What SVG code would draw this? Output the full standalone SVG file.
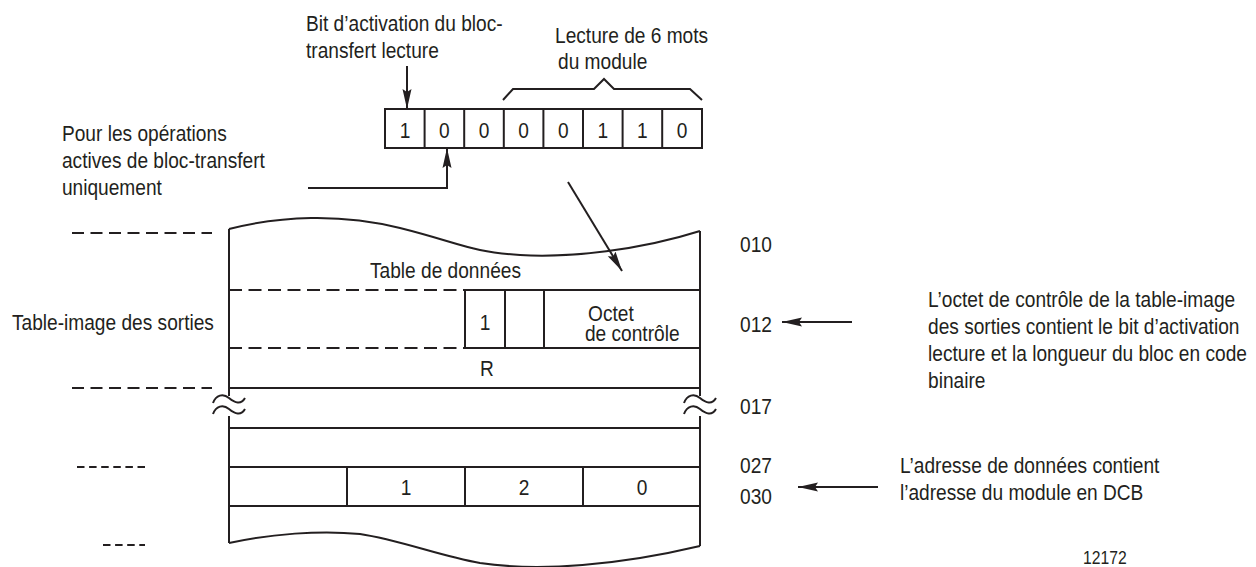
<svg xmlns="http://www.w3.org/2000/svg" width="1256" height="567" viewBox="0 0 1256 567">
<style>
text{font-family:"Liberation Sans",Arial,sans-serif;font-size:22.5px;fill:#231f20}
.c{text-anchor:middle}
.ln{stroke:#231f20;stroke-width:2;fill:none}
.dl{stroke:#231f20;stroke-width:2.2;fill:none;stroke-dasharray:12 6.5}
.ds{stroke:#231f20;stroke-width:2.2;fill:none;stroke-dasharray:7.5 4.6}
.di{stroke:#231f20;stroke-width:2;fill:none;stroke-dasharray:13 6.5}
.ar{stroke:#231f20;stroke-width:2;fill:none;marker-end:url(#ah)}
</style>
<defs>
<marker id="ah" markerUnits="userSpaceOnUse" markerWidth="20" markerHeight="10" viewBox="0 0 20 10" refX="20" refY="5" orient="auto">
<path d="M0,0.5 L20,5 L0,9.5 L3,5 z" fill="#231f20"/>
</marker>
</defs>

<g id="label-bit"><g transform="scale(0.85 1)">
<text x="360" y="31">Bit d’activation du bloc-</text>
<text x="360" y="58">transfert lecture</text>
</g></g>
<g id="label-lecture"><g transform="scale(0.85 1)">
<text x="653" y="43">Lecture de 6 mots</text>
<text x="656.5" y="69">du module</text>
</g></g>
<g id="label-pour"><g transform="scale(0.85 1)">
<text x="72.9" y="141">Pour les opérations</text>
<text x="72.9" y="168">actives de bloc-transfert</text>
<text x="72.9" y="195">uniquement</text>
</g></g>

<g id="bit-register">
<rect class="ln" x="385" y="109" width="317" height="39"/>
<path class="ln" d="M424.6,109V148M464.2,109V148M503.8,109V148M543.4,109V148M583,109V148M622.6,109V148M662.2,109V148"/>
<g transform="scale(0.85 1)">
<text class="c" x="476.5" y="138">1</text>
<text class="c" x="522.8" y="138">0</text>
<text class="c" x="569.4" y="138">0</text>
<text class="c" x="616" y="138">0</text>
<text class="c" x="662.6" y="138">0</text>
<text class="c" x="709.2" y="138">1</text>
<text class="c" x="755.8" y="138">1</text>
<text class="c" x="802.4" y="138">0</text>
</g>
</g>

<g id="brace">
<polyline class="ln" points="503,100 513,89 594,89 604,79 614,89 690,89 702,100"/>
</g>

<g id="left-dashes">
<line class="dl" x1="72" y1="233" x2="212" y2="233"/>
<line class="dl" x1="72" y1="388" x2="212" y2="388"/>
<line class="ds" x1="77" y1="467" x2="145" y2="467"/>
<line class="ds" x1="103" y1="545" x2="145" y2="545"/>
</g>

<g id="label-table-image"><g transform="scale(0.85 1)">
<text x="14.1" y="330">Table-image des sorties</text>
</g></g>

<g id="data-table">
<path class="ln" d="M229,229 C280,216 340,213 400,228 S470,252 520,255 S640,250 700,231"/>
<path class="ln" d="M229,229 V396 M229,416 V543 M700,231 V396 M700,416 V546"/>
<path class="ln" d="M229,543 C270,534 320,530 360,534 C400,540 440,556 480,563 C540,572 620,565 700,546"/>
<path class="di" d="M229,290 H465 M229,348 H465"/>
<path class="ln" d="M465,290 H700 M465,348 H700 M465,290 V348 M505,290 V348 M544,290 V348"/>
<path class="ln" d="M229,388 H700 M229,428 H700 M229,467 H700 M229,506 H700"/>
<path class="ln" d="M213,403 C216,395 223,393 229,398 S241,405 245,398 M213,414 C216,406 223,404 229,409 S241,416 245,409"/>
<path class="ln" d="M684,403 C687,395 694,393 700,398 S712,405 716,398 M684,414 C687,406 694,404 700,409 S712,416 716,409"/>
<path class="ln" d="M347,467 V506 M465,467 V506 M583,467 V506"/>
<g transform="scale(0.85 1)">
<text x="435.3" y="278">Table de données</text>
<text class="c" x="570.6" y="330">1</text>
<text x="691.8" y="321">Octet</text>
<text x="688.2" y="341">de contrôle</text>
<text class="c" x="572.9" y="376">R</text>
<text class="c" x="477.6" y="495">1</text>
<text class="c" x="616.5" y="495">2</text>
<text class="c" x="755.3" y="495">0</text>
</g>
</g>

<g id="addresses"><g transform="scale(0.85 1)">
<text x="870.6" y="252">010</text>
<text x="870.6" y="332">012</text>
<text x="870.6" y="414">017</text>
<text x="870.6" y="473">027</text>
<text x="870.6" y="504">030</text>
</g></g>

<g id="label-octet"><g transform="scale(0.85 1)">
<text x="1091.8" y="307">L’octet de contrôle de la table-image</text>
<text x="1091.8" y="334">des sorties contient le bit d’activation</text>
<text x="1091.8" y="361">lecture et la longueur du bloc en code</text>
<text x="1091.8" y="388">binaire</text>
</g></g>
<g id="label-adresse"><g transform="scale(0.85 1)">
<text x="1058.8" y="473">L’adresse de données contient</text>
<text x="1058.8" y="500">l’adresse du module en DCB</text>
</g></g>
<g id="figure-number"><g transform="scale(0.85 1)">
<text x="1274.1" y="564" style="font-size:18.5px">12172</text>
</g></g>

<g id="connectors">
<line class="ar" x1="407" y1="66" x2="407" y2="109"/>
<polyline class="ar" points="308,188 447,188 447,148"/>
<line class="ar" x1="568" y1="182" x2="622" y2="271"/>
<line class="ar" x1="852" y1="322" x2="782" y2="322"/>
<line class="ar" x1="878" y1="487" x2="798" y2="487"/>
</g>
</svg>
